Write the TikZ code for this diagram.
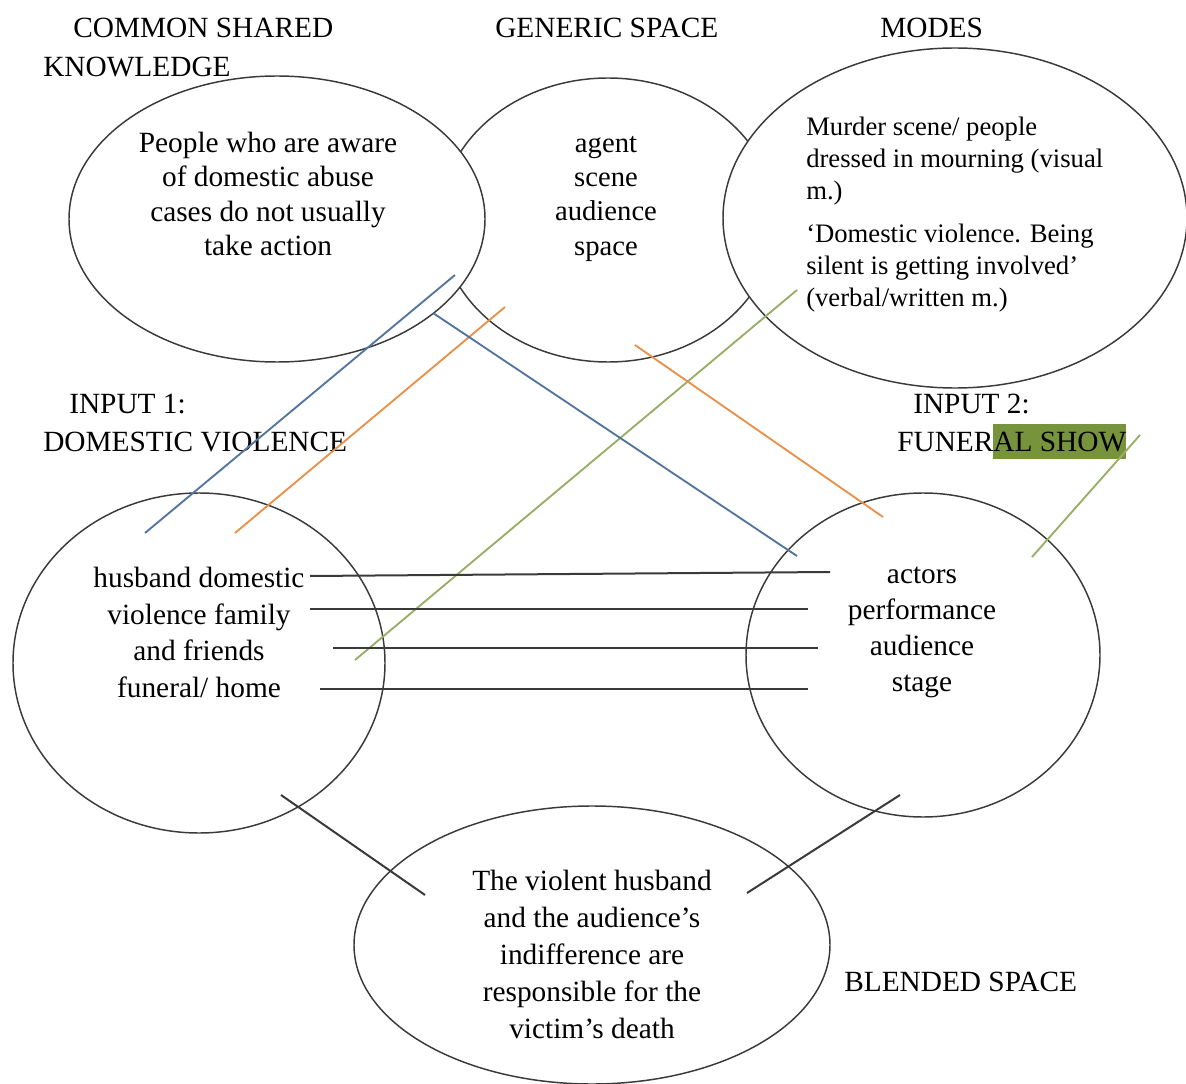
\documentclass[tikz,border=0pt]{standalone}
\usepackage{fontspec}
\setmainfont{Liberation Serif}
\usetikzlibrary{shapes.geometric}

\definecolor{rim}{HTML}{3A3A3A}
\definecolor{linkblue}{HTML}{5474A0}
\definecolor{linkorange}{HTML}{E8914A}
\definecolor{linkgreen}{HTML}{98AE66}
\definecolor{hlgreen}{HTML}{77933C}

\begin{document}
\begin{tikzpicture}[x=0.75pt,y=-0.75pt,
  space/.style={ellipse, draw=rim, line width=1.1pt, fill=white, inner sep=0pt, outer sep=0pt},
  heading/.style={anchor=base west, inner sep=0pt, font=\fontsize{22}{26}\selectfont},
  body/.style={anchor=north, inner sep=0pt, align=center},
  bluelink/.style={draw=linkblue, line width=1.4pt},
  orangelink/.style={draw=linkorange, line width=1.4pt},
  greenlink/.style={draw=linkgreen, line width=1.4pt},
  blacklink/.style={draw=rim, line width=1.5pt}
]
\useasboundingbox (0,0) rectangle (1186,1084);

% mental spaces (generic space first, partly covered by its neighbours)
\node[space, minimum width=336*0.75pt, minimum height=284*0.75pt] (generic) at (608,220) {};
\node[space, minimum width=416*0.75pt, minimum height=286*0.75pt] (common) at (277,219) {};
\node[space, minimum width=464*0.75pt, minimum height=340*0.75pt] (modes) at (955,218) {};
\node[space, minimum width=372*0.75pt, minimum height=340*0.75pt] (input1) at (199,663) {};
\node[space, minimum width=354*0.75pt, minimum height=324*0.75pt] (input2) at (923,655) {};
\node[space, minimum width=476*0.75pt, minimum height=278*0.75pt] (blend) at (592,945) {};

% headings
\node[heading] (hcommonA) at (73,38) {COMMON SHARED};
\node[heading] (hcommonB) at (43,77) {KNOWLEDGE};
\node[heading] (hgeneric) at (495,38) {GENERIC SPACE};
\node[heading] (hmodes) at (880,38) {MODES};
\node[heading] (hinA) at (69,413) {INPUT 1:};
\node[heading] (hinB) at (43,451) {DOMESTIC VIOLENCE};
\node[heading] (hinC) at (913,413) {INPUT 2:};
\node[heading] (hinD) at (897,451) {FUNER{\setlength\fboxsep{0pt}\colorbox{hlgreen}{\rule[-6pt]{0pt}{26.3pt}AL SHOW}}};
\node[heading] (hblend) at (844,991) {BLENDED SPACE};

% contents of the spaces
\node[body, font=\fontsize{22}{25.7}\selectfont] (tcommon) at (268,132)
  {People who are aware\\of domestic abuse\\cases do not usually\\take action};
\node[body, font=\fontsize{21.5}{25.7}\selectfont] (tgeneric) at (606,136)
  {agent\\scene\\audience\\space};
\node[anchor=north west, inner sep=0pt, align=left, font=\fontsize{20}{24}\selectfont] (tmodes) at (806,117)
  {Murder scene/ people\\dressed in mourning (visual\\m.)\\[8pt]%
   `Domestic violence. Being\\silent is getting involved'\\(verbal/written m.)};
\node[body, font=\fontsize{22}{27.4}\selectfont] (tinput1) at (199,567)
  {husband domestic\\violence family\\and friends\\funeral/ home};
\node[body, font=\fontsize{22}{27}\selectfont] (tinput2) at (922,567)
  {actors\\performance\\audience\\stage};
\node[body, font=\fontsize{22}{27.75}\selectfont] (tblend) at (592,870)
  {The violent husband\\and the audience's\\indifference are\\responsible for the\\victim's death};

% end points of the cross-space mappings
\coordinate (b1s) at (455,275); \coordinate (b1e) at (145,533);
\coordinate (o1s) at (505,307); \coordinate (o1e) at (235,533);
\coordinate (g1s) at (797,290); \coordinate (g1e) at (355,660);
\coordinate (b2s) at (433,313); \coordinate (b2e) at (797,556);
\coordinate (o2s) at (635,345); \coordinate (o2e) at (883,517);
\coordinate (g2s) at (1140,435); \coordinate (g2e) at (1032,557);
\coordinate (h1s) at (310,576); \coordinate (h1e) at (830,572);
\coordinate (h2s) at (310,609); \coordinate (h2e) at (808,609);
\coordinate (h3s) at (333,648); \coordinate (h3e) at (818,648);
\coordinate (h4s) at (320,689); \coordinate (h4e) at (808,689);
\coordinate (d1s) at (281,795); \coordinate (d1e) at (425,895);
\coordinate (d2s) at (900,795); \coordinate (d2e) at (747,893);

\draw[bluelink] (b1s) -- (b1e);
\draw[orangelink] (o1s) -- (o1e);
\draw[greenlink] (g1s) -- (g1e);
\draw[bluelink] (b2s) -- (b2e);
\draw[orangelink] (o2s) -- (o2e);
\draw[greenlink] (g2s) -- (g2e);
\draw[blacklink] (h1s) -- (h1e);
\draw[blacklink] (h2s) -- (h2e);
\draw[blacklink] (h3s) -- (h3e);
\draw[blacklink] (h4s) -- (h4e);
\draw[blacklink] (d1s) -- (d1e);
\draw[blacklink] (d2s) -- (d2e);
\end{tikzpicture}
\end{document}
